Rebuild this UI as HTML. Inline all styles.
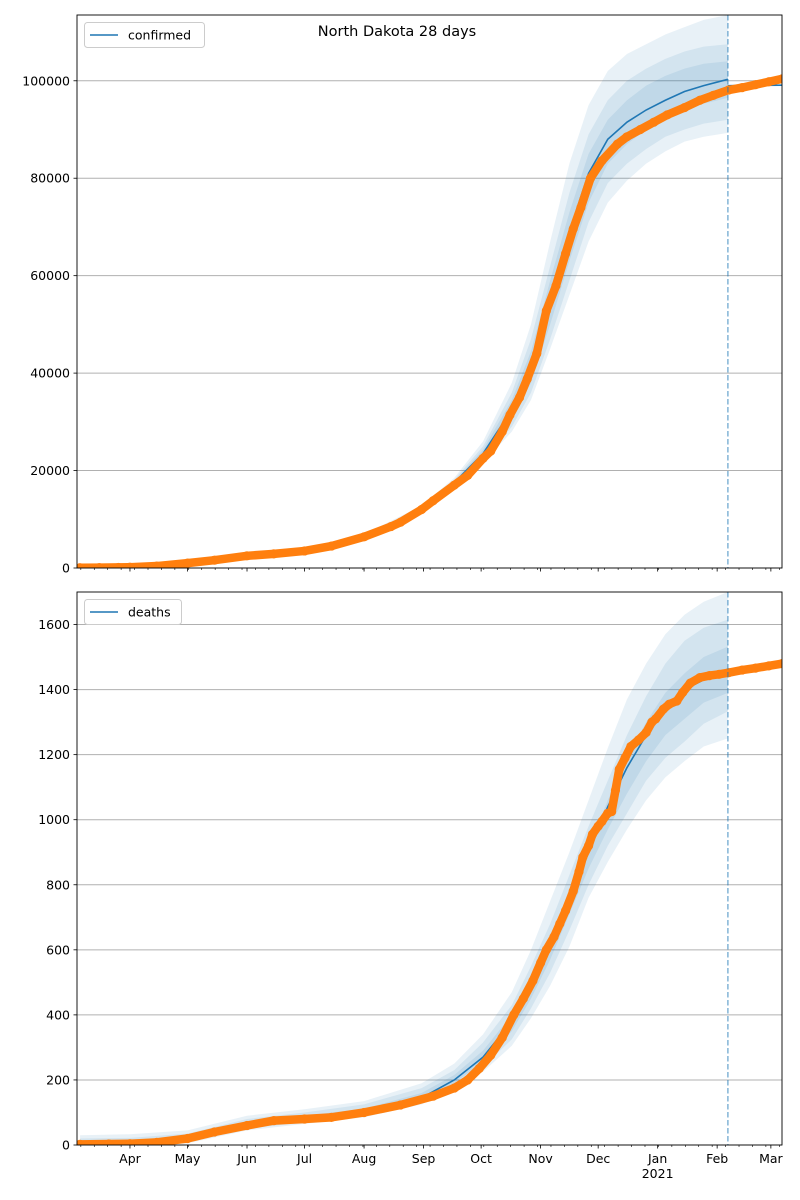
<!DOCTYPE html>
<html><head><meta charset="utf-8">
<style>
body{margin:0;background:#fff;}
svg{display:block;font-family:"DejaVu Sans","Liberation Sans",sans-serif;}
</style></head>
<body>
<svg id="chart" width="800" height="1200" viewBox="0 0 800 1200" xmlns="http://www.w3.org/2000/svg">
<rect width="800" height="1200" fill="#fff"/>
<text x="397" y="36" font-size="14.5" text-anchor="middle">North Dakota 28 days</text>
<g id="top"></g>
<g id="bot"></g>
</svg>
<script>
// ---- data ----
const monthLabels = ["Apr","May","Jun","Jul","Aug","Sep","Oct","Nov","Dec","Jan","Feb","Mar"];
const monthDays = [31,61,92,122,153,184,214,245,275,306,337,365];
const modelDays = [5,31,61,92,122,153,183,200,215,230,240,250,260,270,280,290,300,310,320,330,342.6];
const forecastDay = 342.6;

const confTicks = [0,20000,40000,60000,80000,100000];
const confObsDays = [5,15,25,31,45,61,75,92,106,122,136,153,167,172,183,189,200,207,215,219,225,229,234,238,243,248,253,258,262,266,271,277,285,290,297,304,311,320,328,335,343,350,357,364,371];
const confObs = [50,80,120,150,400,1000,1600,2500,2900,3500,4500,6400,8500,9400,12000,13800,17000,19000,22500,24000,28000,31400,35000,38800,44000,52800,57900,64500,69600,74000,80000,83600,87000,88500,90000,91500,93000,94500,96000,97000,98100,98600,99200,99800,100400];
const confModel = [50,150,1000,2500,3500,6400,12000,17500,23500,32500,41000,55000,69000,81000,88000,91500,94000,96000,97800,99000,100300];
const confHi3 = [100,250,1200,2800,3900,6900,12800,18500,26000,38000,50000,67000,83000,95000,102000,105500,107500,109500,111000,112500,113500];
const confHi2 = [80,200,1100,2700,3700,6700,12500,18100,25000,36000,47000,62000,77000,89000,96000,100000,102500,104500,106000,107000,107500];
const confHi1 = [60,170,1050,2600,3600,6500,12200,17800,24300,34500,44500,59000,73000,85000,92000,96000,99000,101000,102500,103500,104000];
const confLo1 = [40,130,950,2400,3400,6300,11800,17200,22800,30500,38000,50000,63000,75000,83000,87000,90000,92500,94000,95300,96500];
const confLo2 = [30,110,900,2300,3300,6100,11500,16900,22000,29000,36000,47000,59000,71000,79000,83000,86000,88500,90000,91200,92000];
const confLo3 = [20,90,850,2200,3200,5900,11200,16500,21500,28000,34500,45000,56000,67000,75000,79500,83000,85500,87500,88500,89300];
const confAfterDays = [342.6,371];
const confAfter = [99000,99100];

const deathTicks = [0,200,400,600,800,1000,1200,1400,1600];
const deathObsDays = [5,20,31,45,61,75,92,106,122,136,153,172,189,200,207,213,219,225,231,236,241,245,248,252,255,258,262,265,267,270,272,275,277,280,282,284,286,289,292,296,300,303,305,309,312,316,319,323,328,333,338,343,350,357,364,371];
const deathObs = [2,3,4,8,20,40,60,75,80,85,100,123,150,175,200,235,276,330,400,450,505,560,600,640,680,720,780,840,885,920,955,980,995,1020,1025,1090,1155,1190,1225,1245,1268,1300,1310,1340,1355,1365,1391,1420,1437,1443,1447,1452,1460,1466,1473,1480];
const deathModel = [0,3,20,60,80,100,145,200,270,380,490,610,750,900,1040,1160,1260,1340,1400,1430,1450];
const deathHi3 = [30,33,45,90,110,135,190,250,340,470,600,750,900,1060,1220,1370,1480,1570,1630,1670,1700];
const deathHi2 = [20,22,35,80,100,125,175,230,315,430,550,680,830,980,1120,1260,1380,1480,1550,1590,1615];
const deathHi1 = [10,12,27,70,90,112,160,215,290,400,510,640,770,910,1060,1190,1300,1390,1450,1500,1532];
const deathLo1 = [0,0,15,55,75,95,140,190,255,350,450,570,710,850,970,1080,1180,1260,1310,1360,1390];
const deathLo2 = [0,0,10,50,70,90,132,180,240,325,420,530,660,800,920,1020,1120,1190,1240,1295,1333];
const deathLo3 = [0,0,5,45,65,85,125,170,225,305,390,490,610,760,870,970,1060,1130,1180,1225,1250];
const deathAfterDays = [342.6,371];
const deathAfter = [1452,1482];

// ---- drawing ----
const NS = "http://www.w3.org/2000/svg";
const X0 = 77, X1 = 782, D0 = 3.4, D1 = 370.8;
function xs(d){ return X0 + (d - D0) * (X1 - X0) / (D1 - D0); }
function mk(tag, attrs, parent){ const e = document.createElementNS(NS, tag); for (const k in attrs) e.setAttribute(k, attrs[k]); parent.appendChild(e); return e; }

function panel(g, id, top, bottom, ymax, ticks, obsD, obs, model, hi3, hi2, hi1, lo1, lo2, lo3, aftD, aft, legendText, legendW, showLabels){
  const ys = v => bottom - v * (bottom - top) / ymax;
  const clip = mk("clipPath", {id: "clip-" + id}, g);
  mk("rect", {x: X0, y: top, width: X1 - X0, height: bottom - top}, clip);
  ticks.forEach(t => {
    const gl = mk("line", {x1: X0, x2: X1, y1: ys(t), y2: ys(t), stroke: "#b0b0b0", "stroke-width": 1}, g);
    
    
    mk("line", {x1: X0 - 3.5, x2: X0, y1: ys(t), y2: ys(t), stroke: "#000", "stroke-width": 0.8}, g);
    const tl = mk("text", {x: X0 - 7, y: ys(t) + 4.5, "font-size": 12.5, "text-anchor": "end"}, g);
    tl.textContent = String(t);
    
    
  });
  const plot = mk("g", {"clip-path": "url(#clip-" + id + ")"}, g);
  function band(hi, lo, name){
    let p = modelDays.map((d, i) => xs(d) + "," + ys(hi[i]));
    for (let i = modelDays.length - 1; i >= 0; i--) p.push(xs(modelDays[i]) + "," + ys(lo[i]));
    const b = mk("polygon", {points: p.join(" "), fill: "#1f77b4", "fill-opacity": 0.1}, plot);
    
    
  }
  band(hi3, lo3, "band-outer"); band(hi2, lo2, "band-middle"); band(hi1, lo1, "band-inner");
  const ml = mk("polyline", {points: modelDays.map((d, i) => xs(d) + "," + ys(model[i])).join(" "), fill: "none", stroke: "#1f77b4", "stroke-width": 1.6}, plot);
  
  
  const al = mk("polyline", {points: aftD.map((d, i) => xs(d) + "," + ys(aft[i])).join(" "), fill: "none", stroke: "#1f77b4", "stroke-width": 1.6}, plot);
  
  
  const ol = mk("polyline", {points: obsD.map((d, i) => xs(d) + "," + ys(obs[i])).join(" "), fill: "none", stroke: "#ff7f0e", "stroke-width": 8.5, "stroke-linejoin": "round", "stroke-linecap": "round"}, plot);
  
  
  obsD.forEach((d, i) => {
    const c = mk("circle", {cx: xs(d), cy: ys(obs[i]), r: 4.6, fill: "#ff7f0e"}, plot);
    
    
  });
  const fl = mk("line", {x1: xs(forecastDay), x2: xs(forecastDay), y1: top, y2: bottom, stroke: "#1f77b4", "stroke-opacity": 0.55, "stroke-width": 1.5, "stroke-dasharray": "5.5,2.5"}, g);
  
  
  for (let d = 3.4 + 2; d < D1; d += 7) mk("line", {x1: xs(d), x2: xs(d), y1: bottom, y2: bottom + 2, stroke: "#000", "stroke-width": 0.6}, g);
  monthDays.forEach((d, i) => {
    mk("line", {x1: xs(d), x2: xs(d), y1: bottom, y2: bottom + 3.5, stroke: "#000", "stroke-width": 0.8}, g);
    if (showLabels){
      const t = mk("text", {x: xs(d), y: bottom + 18, "font-size": 12.5, "text-anchor": "middle"}, g);
      t.textContent = monthLabels[i];
      
      
      if (monthLabels[i] === "Jan"){
        const y2 = mk("text", {x: xs(d), y: bottom + 33, "font-size": 12.5, "text-anchor": "middle"}, g);
        y2.textContent = "2021";
        
        
      }
    }
  });
  mk("rect", {x: X0, y: top, width: X1 - X0, height: bottom - top, fill: "none", stroke: "#000", "stroke-width": 0.9}, g);
  const lg = mk("g", {}, g);
  
  
  mk("rect", {x: 84.5, y: top + 7.5, width: legendW, height: 25, rx: 3, fill: "#fff", "fill-opacity": 0.8, stroke: "#ccc", "stroke-width": 1}, lg);
  mk("line", {x1: 90, x2: 118, y1: top + 20, y2: top + 20, stroke: "#1f77b4", "stroke-width": 1.6}, lg);
  const lt = mk("text", {x: 128, y: top + 24.5, "font-size": 12.5}, lg);
  lt.textContent = legendText;
}
panel(document.getElementById("top"), "top", 15, 568, 113500, confTicks, confObsDays, confObs, confModel, confHi3, confHi2, confHi1, confLo1, confLo2, confLo3, confAfterDays, confAfter, "confirmed", 120, false);
panel(document.getElementById("bot"), "bot", 592, 1145, 1700, deathTicks, deathObsDays, deathObs, deathModel, deathHi3, deathHi2, deathHi1, deathLo1, deathLo2, deathLo3, deathAfterDays, deathAfter, "deaths", 97, true);
</script>
</body></html>
